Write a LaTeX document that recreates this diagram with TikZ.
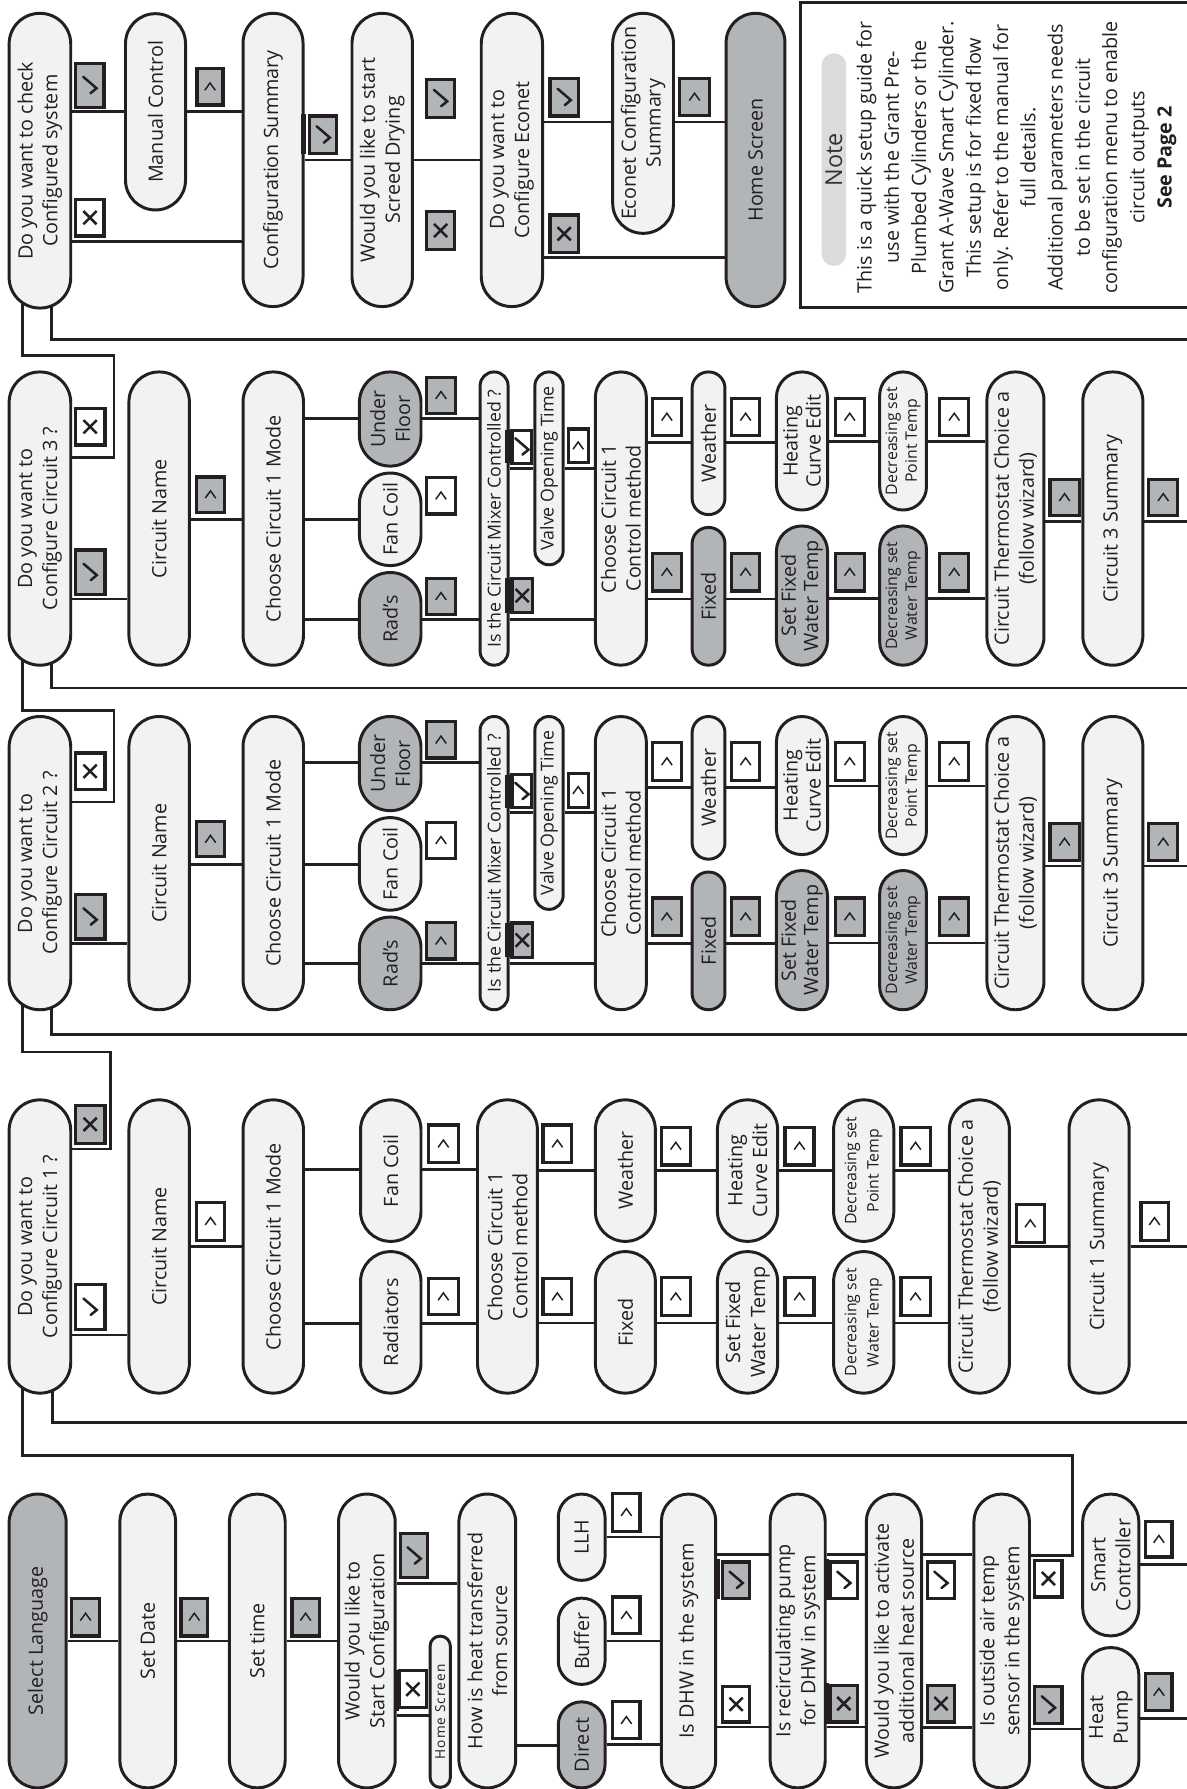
\documentclass[tikz,border=0pt]{standalone}
\usepackage{fontspec}
\setmainfont{Open Sans}
\definecolor{lc}{HTML}{231F20}
\definecolor{lf}{HTML}{F1F2F3}
\definecolor{gf}{HTML}{B2B5B7}
\definecolor{nf}{HTML}{DADBDC}
\pgfdeclarelayer{back}
\pgfdeclarelayer{bg}
\pgfsetlayers{back,bg,main}
\newcommand\mfs{\fontsize{17.3}{21.8}\selectfont}
\newcommand\mixfs{\fontsize{15.6}{18}\selectfont}
\newcommand\decfs{\fontsize{13.9}{17.5}\selectfont}
\newcommand\decfsb{\fontsize{13.9}{19.5}\selectfont}
\newcommand\tinyfs{\fontsize{12}{12}\selectfont\addfontfeature{LetterSpace=8}}
\tikzset{
  pillbase/.style={draw=lc, line width=2.6pt, fill=lf, rotate=90, align=center, inner sep=0pt, font=\mfs, text=lc},
  boxbase/.style={draw=lc, line width=2.8pt, inner sep=0pt},
  conn/.style={draw=lc, line width=2.4pt},
  barst/.style={fill=lc},
  symst/.style={draw=lc, line width=2.2pt, line cap=round, line join=miter},
}
% pill: name, x1, x2, y1, y2, style, text
\newcommand\pill[7]{%
  \pgfmathsetmacro\pilw{#3-(#2)}%
  \pgfmathsetmacro\pilh{#5-(#4)}%
  \pgfmathsetmacro\pilr{\pilw/2-0.2}%
  \node[pillbase,#6,minimum width=\pilh pt,minimum height=\pilw pt,rounded corners=\pilr pt] (#1) at ({(#2+#3)/2},{(#4+#5)/2}) {#7};}
\newcommand\obox[6]{%
  \pgfmathsetmacro\boxw{#3-(#2)}%
  \pgfmathsetmacro\boxh{#5-(#4)}%
  \node[boxbase,fill=#6,minimum width=\boxw pt,minimum height=\boxh pt] (#1) at ({(#2+#3)/2},{(#4+#5)/2}) {};}
\newcommand\cbox[6]{\obox{#1}{#2}{#3}{#4}{#5}{#6}%
  \draw[line width=1.3pt,lc,line join=miter] ([xshift=-4.6pt,yshift=-3.1pt]#1.center) -- ([yshift=3.3pt]#1.center) -- ([xshift=4.6pt,yshift=-3.1pt]#1.center);}
\newcommand\tbox[6]{\obox{#1}{#2}{#3}{#4}{#5}{#6}%
  \draw[symst] ([xshift=0.5pt,yshift=-7pt]#1.center) -- ([xshift=5.8pt,yshift=-2.6pt]#1.center) -- ([xshift=-5.8pt,yshift=7.4pt]#1.center);}
\newcommand\xbox[6]{\obox{#1}{#2}{#3}{#4}{#5}{#6}%
  \draw[line width=2.2pt,lc] ([xshift=-5.8pt,yshift=-5.8pt]#1.center) -- ([xshift=5.8pt,yshift=5.8pt]#1.center)
    ([xshift=-5.8pt,yshift=5.8pt]#1.center) -- ([xshift=5.8pt,yshift=-5.8pt]#1.center);}
\newcommand\hc[3]{\draw[conn] (#1.south |- 0,#3) -- (#2.north |- 0,#3);}
% circuit block: prefix, yoffset, number, previous node, loop top y, bottom line y
\newcommand\cblock[6]{%
  \pill{#1Q}{8}{62}{628+#2}{885+#2}{}{Do you want to\\Configure Circuit #3 ?}%
  \xbox{#1Qx}{66}{92}{660+#2}{692+#2}{white}%
  \tbox{#1Qt}{66}{92}{784+#2}{823+#2}{gf}%
  \pill{#1Name}{113}{166}{628+#2}{885+#2}{}{Circuit Name}%
  \cbox{#1Namec}{172}{197}{720+#2}{751+#2}{gf}%
  \pill{#1Mode}{213}{266}{628+#2}{885+#2}{}{Choose Circuit 1 Mode}%
  \pill{#1UF}{315}{369}{628+#2}{710.5+#2}{fill=gf}{Under\\Floor}%
  \pill{#1FC}{315}{369}{716.6+#2}{797.7+#2}{}{Fan Coil}%
  \pill{#1Rad}{315}{369}{803.8+#2}{885+#2}{fill=gf}{Rad’s}%
  \cbox{#1UFc}{374}{399}{632.7+#2}{664.3+#2}{gf}%
  \cbox{#1FCc}{374}{399}{720.6+#2}{752.5+#2}{white}%
  \cbox{#1Radc}{374}{399}{808.8+#2}{840.6+#2}{gf}%
  \pill{#1Mix}{420.8}{445.3}{628+#2}{885+#2}{font=\mixfs}{Is the Circuit Mixer Controlled ?}%
  \fill[barst] (443,679+#2) rectangle (447.5,708+#2);%
  \fill[barst] (443,809+#2) rectangle (447.5,839+#2);%
  \tbox{#1Mixt}{448.8}{466}{679+#2}{708+#2}{white}%
  \xbox{#1Mixx}{448.8}{466.6}{809+#2}{839+#2}{gf}%
  \pill{#1Valve}{468.8}{493.6}{628+#2}{797+#2}{font=\mixfs}{Valve Opening Time}%
  \cbox{#1Valvec}{498}{515.5}{678+#2}{707.4+#2}{white}%
  \pill{#1CM}{521.8}{566.5}{628+#2}{885+#2}{}{Choose Circuit 1\\Control method}%
  \cbox{#1CMw}{572}{597}{651+#2}{684+#2}{white}%
  \cbox{#1CMf}{572}{597}{787+#2}{820+#2}{gf}%
  \pill{#1W}{606.6}{635.4}{628+#2}{753+#2}{}{Weather}%
  \pill{#1F}{606.6}{635.4}{764.3+#2}{885+#2}{fill=gf}{Fixed}%
  \cbox{#1Wc}{641}{666}{651+#2}{684+#2}{white}%
  \cbox{#1Fc}{641}{666}{787+#2}{820+#2}{gf}%
  \pill{#1H}{680.5}{725.3}{628+#2}{749+#2}{font=\fontsize{17.3}{20}\selectfont}{Heating\\Curve Edit}%
  \pill{#1S}{680.5}{725.3}{763+#2}{885+#2}{fill=gf,font=\fontsize{17.3}{19.5}\selectfont}{Set Fixed\\Water Temp}%
  \cbox{#1Hc}{732}{757.5}{651+#2}{684+#2}{white}%
  \cbox{#1Sc}{732}{757.5}{787+#2}{820+#2}{gf}%
  \pill{#1DP}{771}{812}{628+#2}{749+#2}{font=\decfs}{Decreasing set\\Point Temp}%
  \pill{#1DW}{771}{812}{763+#2}{885+#2}{fill=gf,font=\decfs}{Decreasing set\\Water Temp}%
  \cbox{#1DPc}{823.7}{849}{651+#2}{684+#2}{white}%
  \cbox{#1DWc}{823.7}{849}{787+#2}{820+#2}{gf}%
  \pill{#1T}{865}{915}{628+#2}{885+#2}{}{Circuit Thermostat Choice a\\(follow wizard)}%
  \cbox{#1Tc}{920.3}{945.8}{722+#2}{754+#2}{gf}%
  \pill{#1Sum}{949}{1001.7}{628+#2}{885+#2}{}{Circuit 3 Summary}%
  \cbox{#1Sumc}{1006.8}{1032.3}{722+#2}{754+#2}{gf}%
  \begin{pgfonlayer}{bg}
  \draw[conn] (#1Q.south |- 0,703+#2) -| (100,#5) -- (20,#5) -- (#4.center -| 20,0);
  \hc{#1Q}{#1Name}{827+#2}
  \hc{#1Name}{#1Mode}{757.5+#2}
  \hc{#1Mode}{#1UF}{668.6+#2}
  \hc{#1Mode}{#1FC}{757.5+#2}
  \hc{#1Mode}{#1Rad}{844.7+#2}
  \hc{#1UF}{#1Mix}{668.6+#2}
  \hc{#1Rad}{#1Mix}{844.7+#2}
  \hc{#1Mix}{#1Valve}{712.3+#2}
  \hc{#1Valve}{#1CM}{712.3+#2}
  \hc{#1Mix}{#1CM}{844.7+#2}
  \hc{#1CM}{#1W}{690+#2}
  \hc{#1CM}{#1F}{827+#2}
  \hc{#1W}{#1H}{690+#2}
  \hc{#1F}{#1S}{827+#2}
  \hc{#1H}{#1DP}{689+#2}
  \hc{#1S}{#1DW}{826.5+#2}
  \hc{#1DP}{#1T}{689+#2}
  \hc{#1DW}{#1T}{826.5+#2}
  \hc{#1T}{#1Sum}{759+#2}
  \draw[conn] (#1Sum.south |- 0,759+#2) -- (1040,759+#2);
  \draw[conn] (#1Q.center -| 45,0) |- (1040,#6);
  \end{pgfonlayer}}

\begin{document}
\begin{tikzpicture}[x=1pt,y=-1pt]
\useasboundingbox (0,0) rectangle (1040,1568);
\begin{pgfonlayer}{back}
\fill[white] (0,0) rectangle (1040,1568);
\end{pgfonlayer}

% ---------- top section ----------
\pill{top}{8}{62}{11.7}{270}{}{Do you want to check\\Configured system}
\tbox{topt}{66.4}{91.2}{55.5}{94}{gf}
\xbox{topx}{66.4}{91.2}{174.7}{206.8}{white}
\pill{man}{110}{162.6}{12}{184}{}{Manual Control}
\cbox{manc}{172.7}{195.5}{60}{92}{gf}
\pill{csum}{213}{265.6}{11.7}{268.7}{}{Configuration Summary}
\fill[barst] (264,100) rectangle (268.5,135);
\tbox{csumt}{271.6}{295}{101.7}{134.4}{gf}
\pill{scr}{308.5}{361.5}{11.7}{268.7}{}{Would you like to start\\Screed Drying}
\tbox{scrt}{374}{398.3}{69.5}{102.8}{gf}
\xbox{scrx}{374}{398.3}{185.5}{218.5}{gf}
\pill{eco}{421.8}{475.5}{11.7}{268.7}{}{Do you want to\\Configure Econet}
\tbox{ecot}{482}{507}{68.6}{101.7}{gf}
\xbox{ecox}{482}{507}{188.4}{221.4}{gf}
\pill{ecs}{537}{590.3}{11.7}{204.5}{}{Econet Configuration\\Summary}
\cbox{ecsc}{595.7}{621.8}{68.6}{101.4}{gf}
\pill{home}{636.4}{688}{11.7}{268.7}{fill=gf}{Home Screen}

% note
\draw[draw=lc,line width=2.8pt,fill=white] (701.5,2.3) rectangle (1050,269.3);
\pill{notehdr}{720.2}{741.6}{46.7}{233}{fill=nf,draw=none,font=\fontsize{20.5}{22}\selectfont,text=black!80}{Note}
\node[rotate=90,align=center,inner sep=0pt,text=lc,font=\fontsize{17.3}{23.9}\selectfont] (notetxt) at (890.9,138)
 {This is a quick setup guide for\\use with the Grant Pre-\\Plumbed Cylinders or the\\Grant A-Wave Smart Cylinder.\\This setup is for fixed flow\\only. Refer to the manual for\\full details.\\Additional parameters needs\\to be set in the circuit\\configuration menu to enable\\circuit outputs\\\textbf{See Page 2}};

\begin{pgfonlayer}{bg}
\hc{top}{man}{97.9}
\hc{top}{csum}{211.8}
\hc{man}{csum}{97.9}
\hc{csum}{scr}{140.2}
\hc{scr}{eco}{140.2}
\hc{eco}{ecs}{107}
\hc{ecs}{home}{107}
\hc{eco}{home}{225.5}
\draw[conn] (top.center -| 45,0) |- (1040,297.4);
\end{pgfonlayer}

% ---------- circuit 3 and circuit 2 ----------
\cblock{c}{-302}{3}{top}{311.5}{603}
\cblock{b}{0}{2}{cQ}{623}{906.5}

% ---------- circuit 1 ----------
\pill{aQ}{8}{62}{964}{1221}{}{Do you want to\\Configure Circuit 1 ?}
\xbox{aQx}{66}{92}{968.7}{1002.2}{gf}
\tbox{aQt}{66}{92}{1126}{1165}{white}
\pill{aName}{113}{166}{964}{1221}{}{Circuit Name}
\cbox{aNamec}{172}{197}{1054}{1087}{white}
\pill{aMode}{213}{266}{964}{1221}{}{Choose Circuit 1 Mode}
\pill{aFC}{316}{369}{964}{1088}{}{Fan Coil}
\pill{aRad}{316}{369}{1097}{1221}{}{Radiators}
\cbox{aFCc}{375.5}{401.7}{986}{1019}{white}
\cbox{aRadc}{375.5}{401.7}{1120.7}{1152.3}{white}
\pill{aCM}{418.5}{471}{964}{1221}{}{Choose Circuit 1\\Control method}
\cbox{aCMw}{476}{501}{986}{1019}{white}
\cbox{aCMf}{476}{501}{1120.7}{1152.3}{white}
\pill{aW}{521.8}{574.4}{964}{1088}{}{Weather}
\pill{aF}{521.8}{574.4}{1097}{1221}{}{Fixed}
\cbox{aWc}{579.6}{605}{988}{1021}{white}
\cbox{aFc}{579.6}{605}{1120}{1153}{white}
\pill{aH}{628.8}{681.6}{964}{1088}{}{Heating\\Curve Edit}
\pill{aS}{628.8}{681.6}{1097}{1221}{}{Set Fixed\\Water Temp}
\cbox{aHc}{688}{713.4}{988}{1021}{white}
\cbox{aSc}{688}{713.4}{1120}{1153}{white}
\pill{aDP}{730.6}{783.4}{964}{1088}{font=\decfsb}{Decreasing set\\Point Temp}
\pill{aDW}{730.6}{783.4}{1097}{1221}{font=\decfsb}{Decreasing set\\Water Temp}
\cbox{aDPc}{789.7}{815.2}{988}{1021}{white}
\cbox{aDWc}{789.7}{815.2}{1120}{1153}{white}
\pill{aT}{832.1}{884.7}{964}{1221}{}{Circuit Thermostat Choice a\\(follow wizard)}
\cbox{aTc}{890.8}{915.2}{1056}{1089}{white}
\pill{aSum}{937}{989.7}{964}{1221}{}{Circuit 1 Summary}
\cbox{aSumc}{1000}{1023.8}{1054}{1087}{white}

\begin{pgfonlayer}{bg}
\draw[conn] (aQ.south |- 0,1007) -| (97,922) -- (20,922) -- (bQ.center -| 20,0);
\hc{aQ}{aName}{1170}
\hc{aName}{aMode}{1092.4}
\hc{aMode}{aFC}{1025}
\hc{aMode}{aRad}{1160}
\hc{aFC}{aCM}{1025}
\hc{aRad}{aCM}{1160}
\hc{aCM}{aW}{1026}
\hc{aCM}{aF}{1159.5}
\hc{aW}{aH}{1026}
\hc{aF}{aS}{1159.5}
\hc{aH}{aDP}{1026}
\hc{aS}{aDW}{1159.5}
\hc{aDP}{aT}{1026}
\hc{aDW}{aT}{1159.5}
\hc{aT}{aSum}{1092.4}
\draw[conn] (aSum.south |- 0,1092.4) -- (1040,1092.4);
\draw[conn] (aQ.center -| 46,0) |- (1040,1246.6);
\end{pgfonlayer}

% ---------- bottom section ----------
\pill{SL}{8}{58}{1309.5}{1567}{fill=gf}{Select Language}
\cbox{SLc}{63}{87}{1400.7}{1433.8}{gf}
\pill{SD}{105}{154}{1309.5}{1567}{}{Set Date}
\cbox{SDc}{158.6}{182}{1400.7}{1433.8}{gf}
\pill{ST}{201}{250}{1309.5}{1567}{}{Set time}
\cbox{STc}{256}{279.7}{1400.7}{1433.8}{gf}
\pill{Start}{296.7}{346.4}{1309.5}{1567}{}{Would you like to\\Start Configuration}
\tbox{Startt}{351}{375}{1344.3}{1382.7}{gf}
\fill[barst] (345,1464) rectangle (349.5,1500);
\xbox{Startx}{350}{373.6}{1464.4}{1496.7}{white}
\pill{HomeS}{377}{394.7}{1434}{1566.5}{font=\tinyfs}{Home Screen}
\pill{How}{402.2}{452}{1309.5}{1567}{}{How is heat transferred\\from source}
\pill{LLH}{489.3}{530.3}{1309.5}{1385.1}{}{LLH}
\pill{Buffer}{489.3}{530.3}{1400.7}{1476.3}{}{Buffer}
\pill{Direct}{489.3}{530.3}{1491.6}{1567}{fill=gf}{Direct}
\cbox{LLHc}{537}{561}{1309}{1342}{white}
\cbox{Bufferc}{537}{561}{1399.7}{1432}{white}
\cbox{Directc}{537}{561}{1491.6}{1524}{white}
\pill{DHW}{579.7}{627.3}{1309.5}{1567}{}{Is DHW in the system}
\fill[barst] (626.5,1366) rectangle (631,1401.5);
\tbox{DHWt}{633.4}{657}{1369}{1400.7}{gf}
\xbox{DHWx}{633.4}{657}{1478}{1509.3}{white}
\pill{Rec}{675}{723.3}{1309.5}{1567}{}{Is recirculating pump\\for DHW in system}
\fill[barst] (722.5,1366) rectangle (727,1402);
\fill[barst] (722.5,1475) rectangle (727,1511);
\tbox{Rect}{727.7}{751.5}{1369}{1400.7}{white}
\xbox{Recx}{727.7}{751.5}{1477}{1509.3}{gf}
\pill{Act}{759.3}{807.7}{1309.5}{1567}{}{Would you like to activate\\additional heat source}
\tbox{Actt}{812.8}{836.6}{1369}{1400.7}{white}
\xbox{Actx}{812.8}{836.6}{1477}{1509.3}{gf}
\pill{Out}{853.6}{902.3}{1309.5}{1567}{}{Is outside air temp\\sensor in the system}
\xbox{Outx}{907}{930.8}{1367.4}{1399.7}{white}
\tbox{Outt}{907}{930.8}{1478}{1510.3}{gf}
\pill{Smart}{948.9}{998.2}{1309.5}{1433.8}{}{Smart\\Controller}
\pill{HP}{948.9}{998.2}{1444}{1567}{}{Heat\\Pump}
\cbox{Smartc}{1004.3}{1027.2}{1333.4}{1364.7}{white}
\cbox{HPc}{1004.3}{1027.2}{1466.8}{1499.4}{gf}

\begin{pgfonlayer}{bg}
\hc{SL}{SD}{1438.2}
\hc{SD}{ST}{1438.2}
\hc{ST}{Start}{1438.2}
\hc{Start}{How}{1387.8}
\hc{Start}{HomeS}{1503.5}
\hc{How}{Direct}{1530}
\hc{Direct}{DHW}{1529}
\hc{Buffer}{DHW}{1438.2}
\hc{LLH}{DHW}{1347}
\hc{DHW}{Rec}{1362.3}
\hc{DHW}{Rec}{1513.7}
\hc{Rec}{Act}{1362.3}
\hc{Rec}{Act}{1513.7}
\hc{Act}{Out}{1362.3}
\hc{Act}{Out}{1514}
\draw[conn] (Out.south |- 0,1363.3) -| (939.7,1276) -- (20,1276) -- (aQ.center -| 20,0);
\hc{Out}{HP}{1515.4}
\draw[conn] (Smart.south |- 0,1371.5) -- (1040,1371.5);
\draw[conn] (HP.south |- 0,1506.2) -- (1040,1506.2);
\end{pgfonlayer}
\end{tikzpicture}
\end{document}
